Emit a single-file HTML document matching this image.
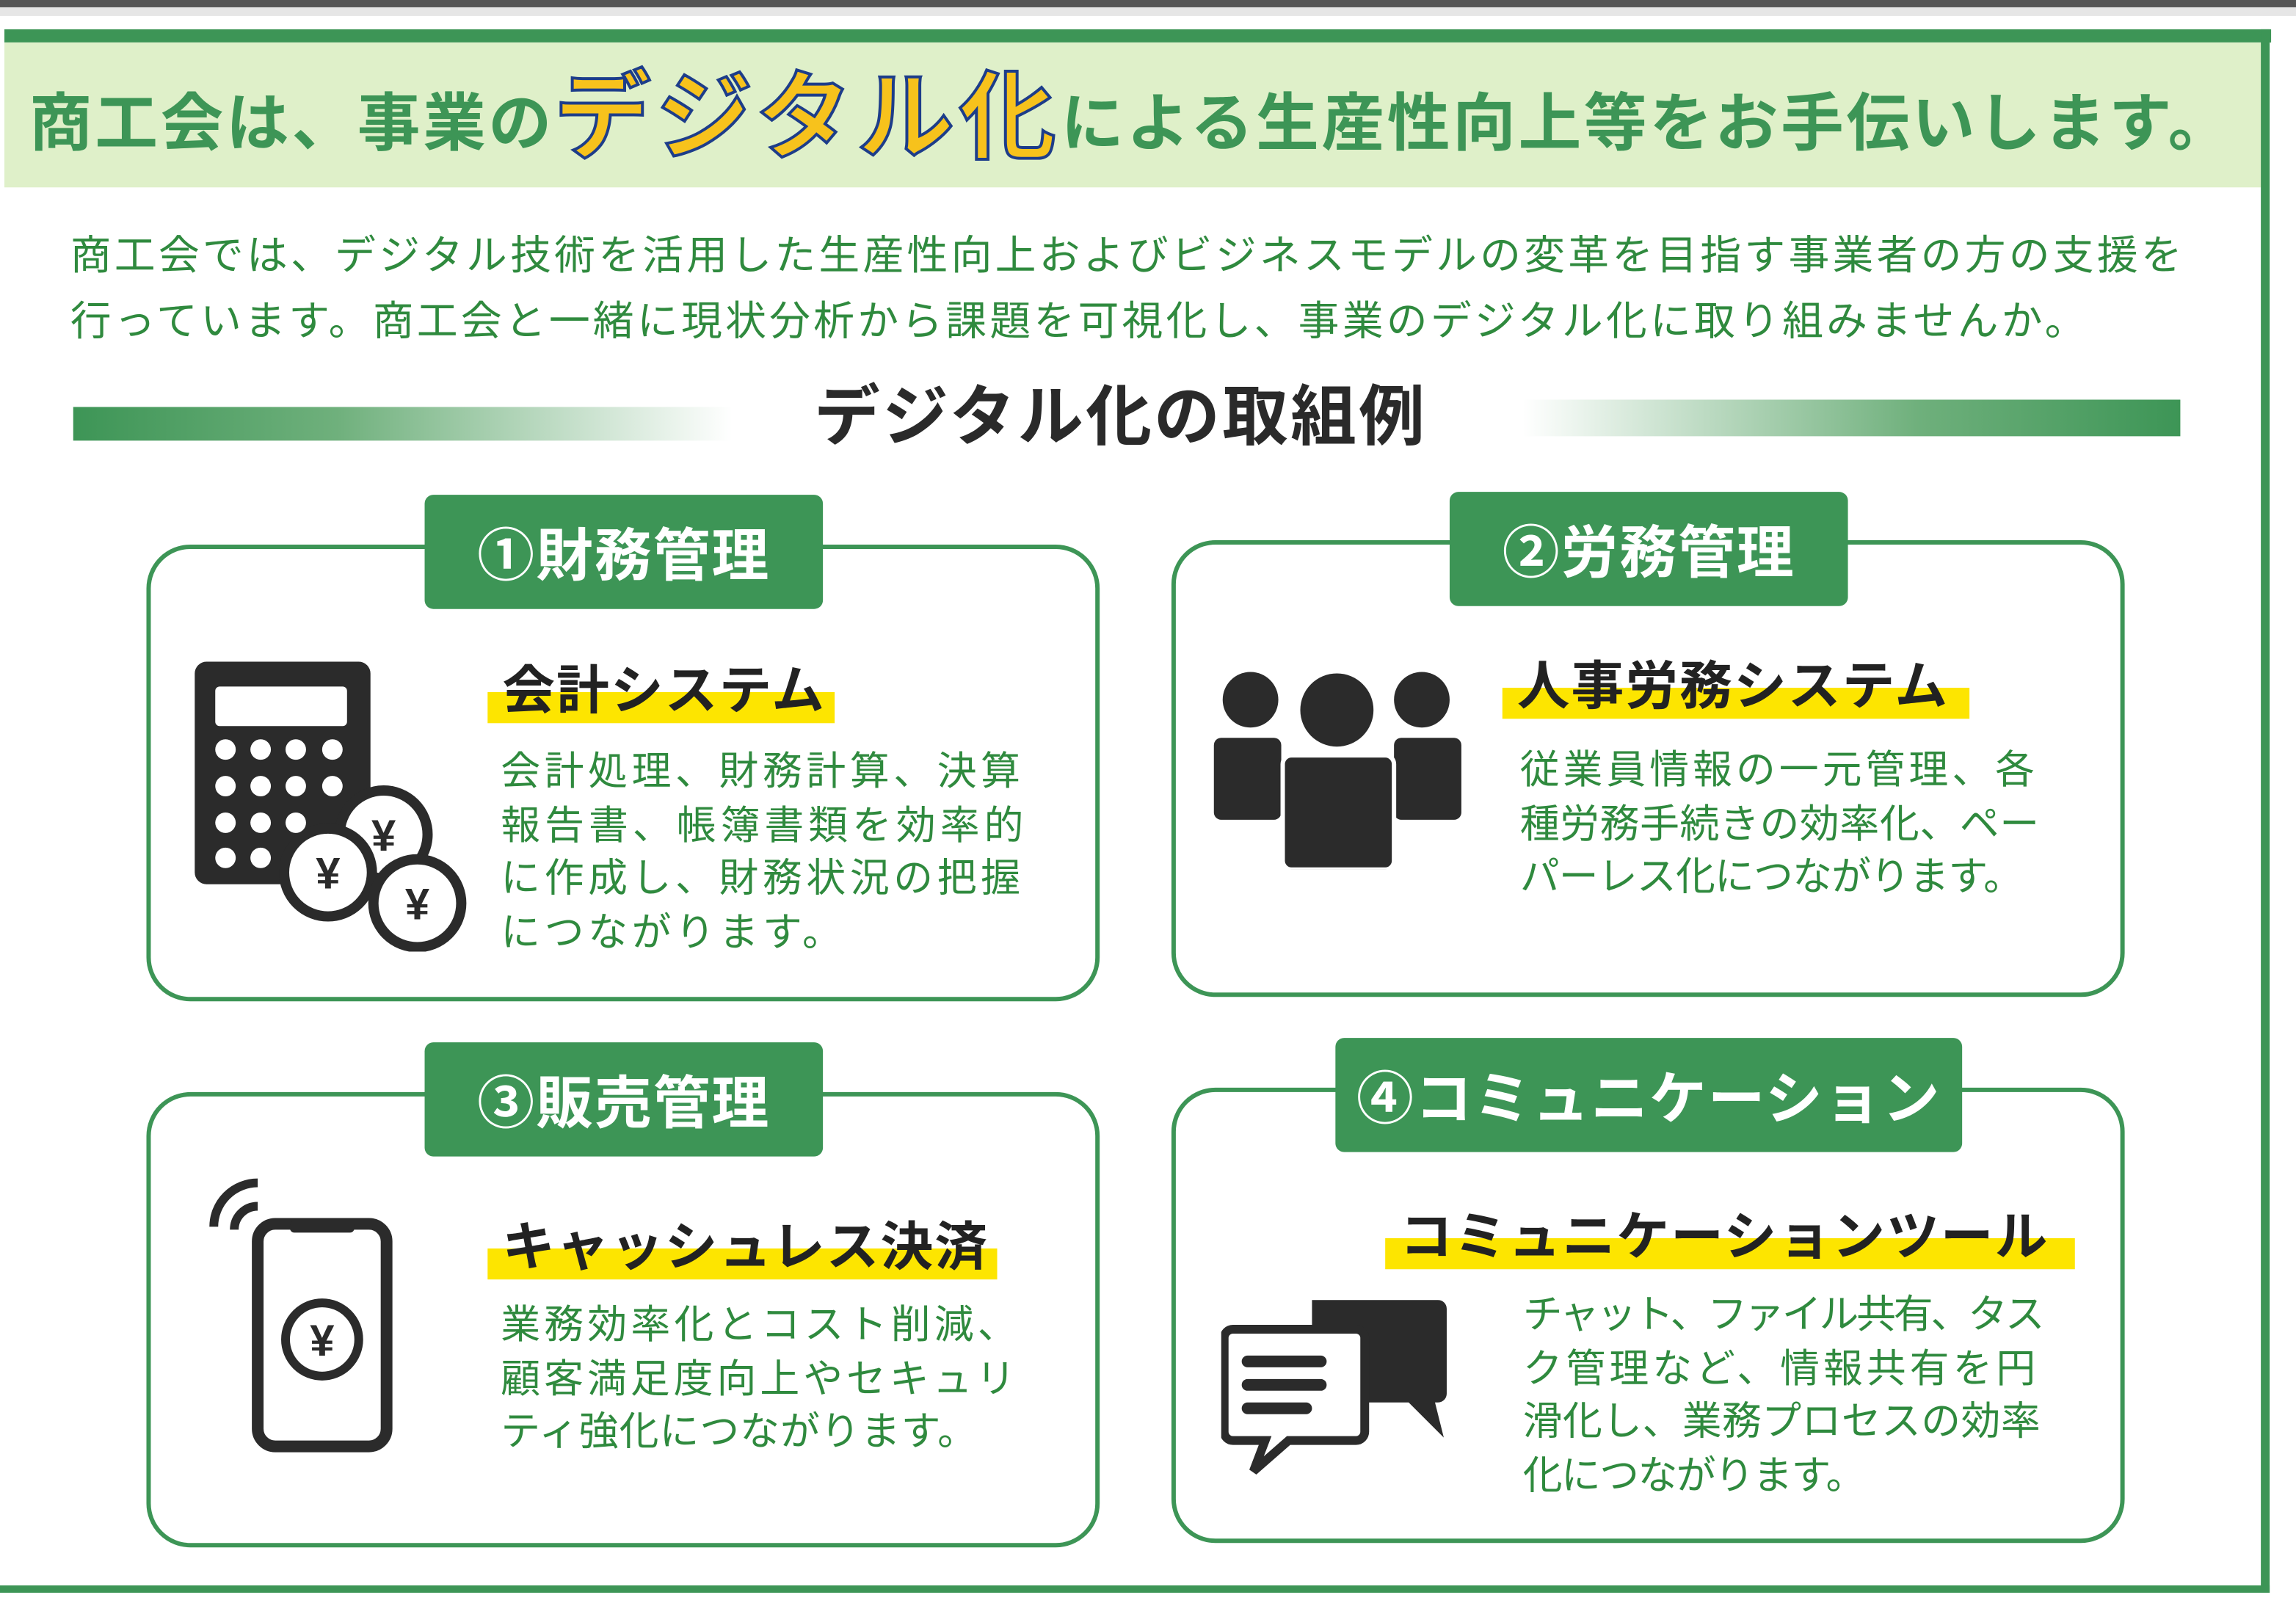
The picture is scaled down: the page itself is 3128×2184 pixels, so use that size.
<!DOCTYPE html>
<html><head><meta charset="utf-8">
<style>
html,body{margin:0;padding:0;background:#fff;}
body{width:3128px;height:2184px;overflow:hidden;position:relative;}
#w{position:absolute;left:0;top:0;width:1568px;height:1095px;transform-origin:0 0;transform:scale(1.99490,1.99452);font-family:"Liberation Sans","Noto Sans CJK JP",sans-serif;}
.a{position:absolute;white-space:nowrap;}
.card{position:absolute;border:3px solid #3d9556;border-radius:30px;background:#fff;box-sizing:border-box;}
.tab{position:absolute;background:#3d9556;color:#fff;font-weight:bold;font-size:39px;border-radius:6px;display:flex;align-items:center;justify-content:center;letter-spacing:1px;}
.sub{position:absolute;font-weight:bold;font-size:36px;color:#222;white-space:nowrap;background:linear-gradient(to bottom,transparent 52%,#fde500 52%,#fde500 100%);padding:0 6px 0 10px;line-height:44px;letter-spacing:1px;}
.body{position:absolute;color:#2f8a3e;font-size:27px;line-height:36.5px;white-space:nowrap;}
.body div{height:36.5px;}
</style></head><body><div id="w">
<div class="a" style="left:0;top:0;width:1568px;height:5px;background:#555;"></div>
<div class="a" style="left:0;top:5px;width:1568px;height:6px;background:#e6e6e6;"></div>
<div class="a" style="left:3px;top:20px;width:1548px;height:9px;background:#3d9556;"></div>
<div class="a" style="left:3px;top:29px;width:1545px;height:99px;background:#dff0c9;"></div>
<div class="a" style="left:1544px;top:20px;width:6px;height:1068px;background:#3d9556;"></div>
<div class="a" style="left:0;top:1083px;width:1550px;height:5px;background:#3d9556;"></div>
<div class="a" style="left:20px;top:50px;font-size:43px;font-weight:bold;color:#3d9556;line-height:60px;letter-spacing:1.8px;">商工会は、事業の<span style="font-size:66px;color:#f7c21c;-webkit-text-stroke:2px #1d3d8a;letter-spacing:3.5px;vertical-align:-4px;">デジタル化</span>による生産性向上等をお手伝いします。</div>
<div class="a" style="left:48px;top:152px;font-size:28px;color:#2f8a3e;line-height:45px;letter-spacing:2.1px;">商工会では、デジタル技術を活用した生産性向上およびビジネスモデルの変革を目指す事業者の方の支援を<br>行っています。商工会と一緒に現状分析から課題を可視化し、事業のデジタル化に取り組みませんか。</div>
<div class="a" style="left:50px;top:278px;width:450px;height:23px;background:linear-gradient(to right,#3d9556,#6fb07c 40%,#fff);"></div>
<div class="a" style="left:1040px;top:273px;width:449px;height:25px;background:linear-gradient(to left,#3d9556,#6fb07c 40%,#fff);"></div>
<div class="a" style="left:556px;top:255px;font-size:45px;font-weight:bold;color:#2a2a2a;line-height:60px;letter-spacing:1.6px;">デジタル化の取組例</div>
<div class="card" style="left:100px;top:372px;width:651px;height:312px;"></div>
<div class="card" style="left:800px;top:369px;width:651px;height:312px;"></div>
<div class="card" style="left:100px;top:746px;width:651px;height:311px;"></div>
<div class="card" style="left:800px;top:743px;width:651px;height:311px;"></div>
<div class="tab" style="left:290px;top:338px;width:272px;height:78px;">①財務管理</div>
<div class="tab" style="left:990px;top:336px;width:272px;height:78px;">②労務管理</div>
<div class="tab" style="left:290px;top:712px;width:272px;height:78px;">③販売管理</div>
<div class="tab" style="left:912px;top:709px;width:428px;height:78px;">④コミュニケーション</div>
<div class="sub" style="left:333px;top:450px;">会計システム</div>
<div class="body" style="left:342px;top:509px;">
<div style="letter-spacing:2.8px">会計処理、財務計算、決算</div>
<div style="letter-spacing:3px">報告書、帳簿書類を効率的</div>
<div style="letter-spacing:2.8px">に作成し、財務状況の把握</div>
<div style="letter-spacing:2.8px">につながります。</div></div>
<svg class="a" style="left:130px;top:450px;" width="195" height="200" viewBox="0 0 195 200">
<rect x="3" y="2" width="120" height="152" rx="8" fill="#2b2b2b"/>
<rect x="17" y="19" width="90" height="27" rx="3" fill="#fff"/>
<g fill="#fff">
<circle cx="24" cy="62" r="7"/><circle cx="48" cy="62" r="7"/><circle cx="72" cy="62" r="7"/><circle cx="97" cy="62" r="7"/>
<circle cx="24" cy="87" r="7"/><circle cx="48" cy="87" r="7"/><circle cx="72" cy="87" r="7"/><circle cx="97" cy="87" r="7"/>
<circle cx="24" cy="112" r="7"/><circle cx="48" cy="112" r="7"/><circle cx="72" cy="112" r="7"/>
<circle cx="24" cy="136" r="7"/><circle cx="48" cy="136" r="7"/></g>
<g stroke="#2b2b2b" stroke-width="7" fill="#fff">
<circle cx="132" cy="120" r="30"/><circle cx="94" cy="146" r="30"/><circle cx="155" cy="167" r="30"/></g>
<g font-family="Liberation Sans,sans-serif" font-weight="bold" font-size="30" fill="#2b2b2b" text-anchor="middle">
<text x="132" y="131">¥</text><text x="94" y="157">¥</text><text x="155" y="178">¥</text></g>
</svg>
<div class="sub" style="left:1026px;top:447px;padding-right:14px;">人事労務システム</div>
<div class="body" style="left:1038px;top:508px;">
<div style="letter-spacing:2.5px">従業員情報の一元管理、各</div>
<div style="letter-spacing:0.3px">種労務手続きの効率化、ペー</div>
<div style="letter-spacing:-0.4px">パーレス化につながります。</div></div>
<svg class="a" style="left:828px;top:458px;" width="172" height="136" viewBox="0 0 172 136">
<g fill="#2b2b2b">
<circle cx="26" cy="20" r="19"/><circle cx="143" cy="20" r="19"/><circle cx="85" cy="27" r="25"/>
<rect x="1" y="46" width="46" height="56" rx="5"/><rect x="124" y="46" width="46" height="56" rx="5"/>
<rect x="48" y="58" width="76" height="78" rx="6" stroke="#fff" stroke-width="3"/></g>
</svg>
<div class="sub" style="left:333px;top:830px;">キャッシュレス決済</div>
<div class="body" style="left:342px;top:887px;">
<div style="letter-spacing:2.6px">業務効率化とコスト削減、</div>
<div style="letter-spacing:2.5px">顧客満足度向上やセキュリ</div>
<div style="letter-spacing:0.5px">ティ強化につながります。</div></div>
<svg class="a" style="left:138px;top:800px;" width="135" height="195" viewBox="0 0 135 195">
<rect x="38" y="36" width="88" height="152" rx="12" fill="none" stroke="#2b2b2b" stroke-width="8"/>
<rect x="60" y="34" width="44" height="8" rx="3" fill="#2b2b2b"/>
<circle cx="82" cy="115" r="25" fill="none" stroke="#2b2b2b" stroke-width="6"/>
<text x="82" y="126" font-family="Liberation Sans,sans-serif" font-weight="bold" font-size="30" fill="#2b2b2b" text-anchor="middle">¥</text>
<path d="M8 38 A30 30 0 0 1 38 8" fill="none" stroke="#2b2b2b" stroke-width="6"/>
<path d="M22 40 A16 16 0 0 1 38 24" fill="none" stroke="#2b2b2b" stroke-width="6"/>
</svg>
<div class="sub" style="left:946px;top:823px;padding-right:18px;">コミュニケーションツール</div>
<div class="body" style="left:1040px;top:880px;">
<div style="letter-spacing:-1.6px">チャット、ファイル共有、タス</div>
<div style="letter-spacing:2.5px">ク管理など、情報共有を円</div>
<div style="letter-spacing:0.2px">滑化し、業務プロセスの効率</div>
<div style="letter-spacing:-0.8px">化につながります。</div></div>
<svg class="a" style="left:834px;top:888px;" width="160" height="120" viewBox="0 0 160 120">
<path d="M62 0 H148 A6 6 0 0 1 154 6 V64 A6 6 0 0 1 148 70 H146 L152 94 L128 70 H62 Z" fill="#2b2b2b"/>
<path d="M8 20 H92 A6 6 0 0 1 98 26 V90 A6 6 0 0 1 92 96 H46 L22 117 L30 96 H8 A6 6 0 0 1 2 90 V26 A6 6 0 0 1 8 20 Z" fill="#fff" stroke="#2b2b2b" stroke-width="6"/>
<g stroke="#2b2b2b" stroke-width="8" stroke-linecap="round">
<line x1="18" y1="42" x2="68" y2="42"/><line x1="18" y1="58" x2="68" y2="58"/><line x1="18" y1="74" x2="58" y2="74"/></g>
</svg>
</div></body></html>
